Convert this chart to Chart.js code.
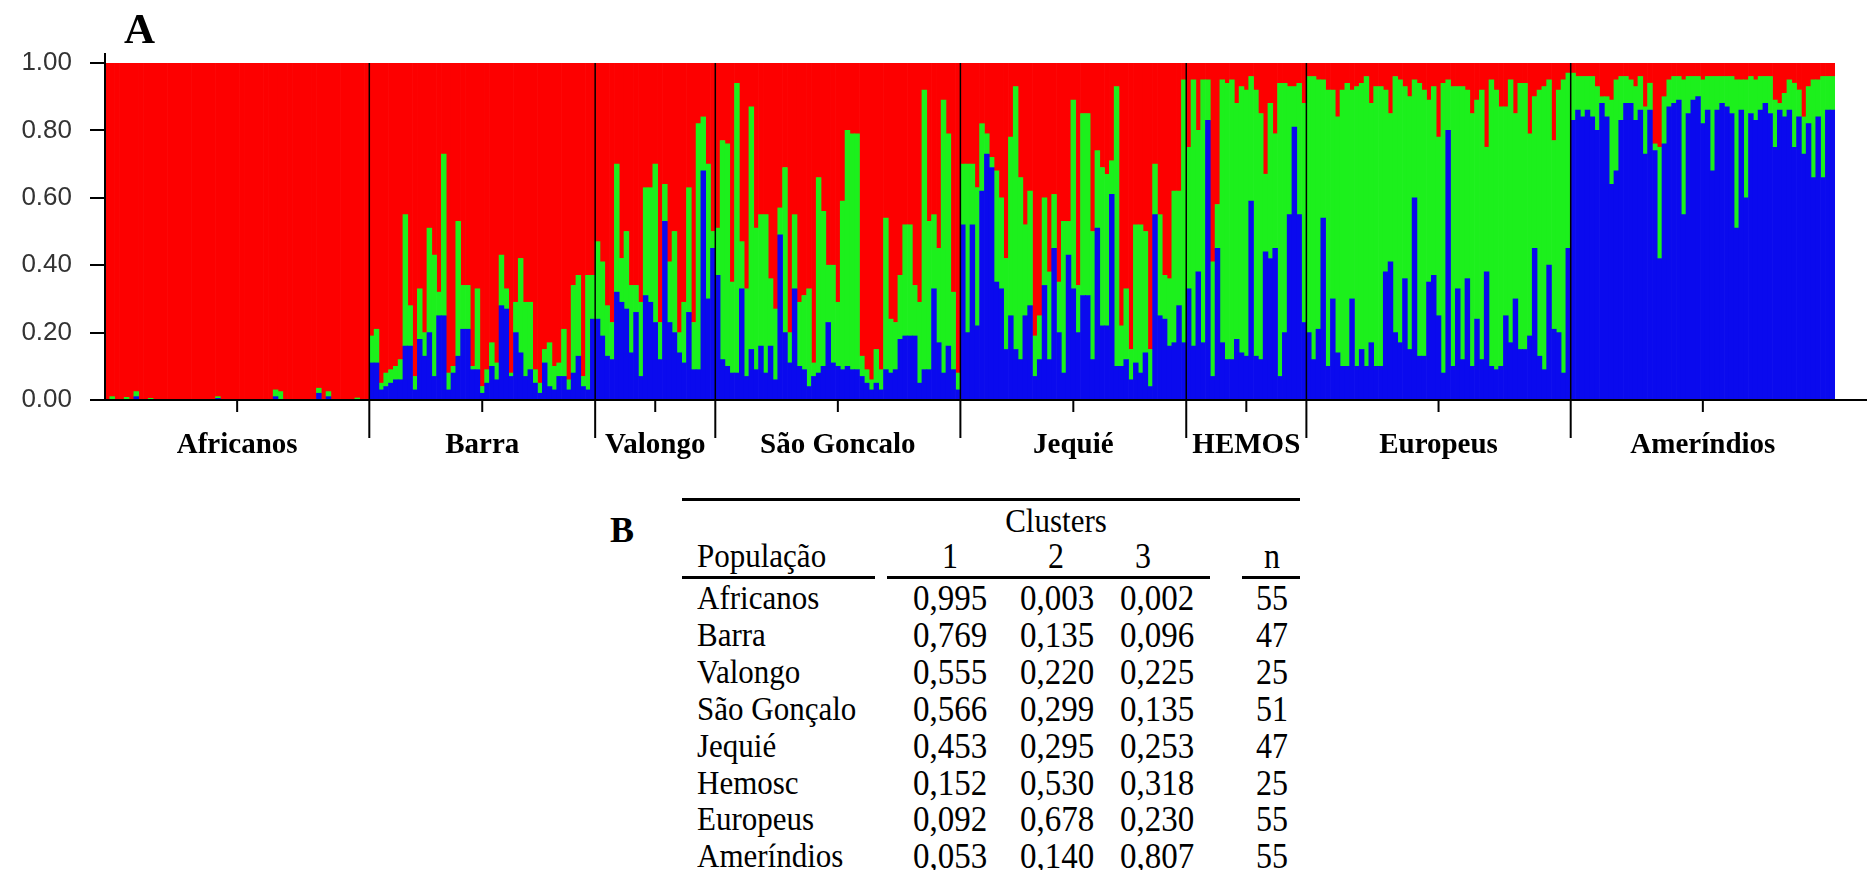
<!DOCTYPE html>
<html>
<head>
<meta charset="utf-8">
<script src="https://cdn.jsdelivr.net/npm/chart.js@4.4.1/dist/chart.umd.min.js"></script>
<style>
  body { margin: 0; background: #fff; width: 1867px; height: 870px; position: relative; overflow: hidden; }
  #chart { position: absolute; left: 0; top: 0; }
  .t { position: absolute; font-family: "Liberation Serif", "Times New Roman", serif; color: #000; white-space: nowrap; transform: scaleY(1.1); }
  .rule { position: absolute; background: #000; height: 3px; }
</style>
</head>
<body>
<canvas id="chart" width="1867" height="480"></canvas>
<div class="t" style="left:124px; top:7px; font-size:43px; line-height:43px; font-weight:bold; transform:none;">A</div>
<div id="table"></div>
<script>
// Q values per individual: blue = cluster 3, top = cluster 3 + cluster 2 (red fills the rest)
const populations = ['Africanos', 'Barra', 'Valongo', 'São Goncalo', 'Jequié', 'HEMOS', 'Europeus', 'Ameríndios'];

const africanosBlue = [0,0,0,0,0,0,0.01,0,0,0, 0,0,0,0,0,0,0,0,0,0, 0,0,0,0.005,0,0,0,0,0,0, 0,0,0,0,0,0.01,0,0,0,0, 0,0,0,0,0.02,0,0.01,0,0,0, 0,0,0,0,0];
const africanosTop = [0,0.01,0,0,0.008,0,0.025,0,0,0.005, 0,0,0,0,0,0,0,0,0,0, 0,0,0,0.01,0,0,0,0,0,0, 0,0,0,0,0,0.03,0.025,0,0,0, 0,0,0,0,0.035,0,0.025,0,0,0, 0,0,0.006,0,0];

const barraBlue = [0.11,0.11,0.03,0.04,0.05,0.06,0.06,0.16,0.16,0.03, 0.18,0.13,0.20,0.07,0.25,0.25,0.03,0.08,0.13,0.21, 0.21,0.09,0.09,0.02,0.05,0.10,0.06,0.28,0.27,0.07, 0.20,0.14,0.07,0.09,0.05,0.02,0.11,0.04,0.03,0.07, 0.07,0.03,0.08,0.13,0.04,0.03,0.24];
const barraTop = [0.19,0.21,0.05,0.08,0.09,0.10,0.12,0.55,0.28,0.07, 0.33,0.20,0.51,0.43,0.32,0.73,0.08,0.10,0.53,0.34, 0.34,0.10,0.33,0.04,0.09,0.17,0.11,0.43,0.33,0.08, 0.29,0.42,0.29,0.29,0.09,0.05,0.15,0.17,0.10,0.11, 0.21,0.06,0.34,0.37,0.07,0.37,0.37];

const valongoBlue = [0.24,0.19,0.13,0.12,0.32,0.29,0.27,0.14,0.26,0.07, 0.31,0.29,0.23,0.12,0.53,0.23,0.20,0.14,0.11,0.26, 0.09,0.09,0.68,0.30,0.45];
const valongoTop = [0.47,0.41,0.28,0.23,0.70,0.42,0.50,0.34,0.34,0.29, 0.63,0.63,0.70,0.23,0.64,0.41,0.50,0.20,0.29,0.63, 0.23,0.82,0.84,0.70,0.50];

const saoGoncaloBlue = [0.37,0.12,0.10,0.08,0.08,0.33,0.07,0.15,0.09,0.16, 0.08,0.16,0.06,0.49,0.20,0.11,0.33,0.10,0.09,0.04, 0.07,0.08,0.10,0.23,0.11,0.10,0.09,0.10,0.09,0.09, 0.07,0.05,0.03,0.05,0.03,0.09,0.08,0.09,0.18,0.19, 0.19,0.19,0.05,0.09,0.09,0.33,0.17,0.08,0.16,0.09, 0.03];
const saoGoncaloTop = [0.51,0.77,0.76,0.35,0.94,0.47,0.33,0.87,0.51,0.55, 0.55,0.36,0.27,0.57,0.69,0.20,0.55,0.29,0.31,0.33, 0.11,0.66,0.56,0.40,0.40,0.29,0.59,0.80,0.79,0.79, 0.13,0.09,0.06,0.15,0.09,0.54,0.24,0.23,0.37,0.52, 0.52,0.34,0.29,0.92,0.53,0.55,0.45,0.89,0.79,0.32, 0.08];

const jequieBlue = [0.52,0.20,0.52,0.22,0.62,0.73,0.69,0.35,0.33,0.15, 0.25,0.15,0.12,0.25,0.28,0.07,0.12,0.34,0.12,0.45, 0.20,0.08,0.43,0.33,0.20,0.31,0.31,0.12,0.51,0.22, 0.22,0.61,0.10,0.10,0.12,0.06,0.11,0.08,0.14,0.04, 0.55,0.25,0.24,0.16,0.17,0.28,0.17];
const jequieTop = [0.70,0.70,0.70,0.63,0.82,0.79,0.72,0.68,0.60,0.42, 0.78,0.93,0.66,0.52,0.62,0.19,0.25,0.60,0.38,0.61, 0.35,0.53,0.53,0.89,0.34,0.85,0.85,0.50,0.74,0.69, 0.67,0.71,0.93,0.22,0.33,0.15,0.52,0.52,0.50,0.15, 0.70,0.55,0.37,0.36,0.62,0.62,0.95];

const hemosBlue = [0.33,0.16,0.38,0.17,0.83,0.07,0.45,0.17,0.12,0.12, 0.18,0.14,0.13,0.59,0.13,0.12,0.44,0.42,0.45,0.07, 0.20,0.55,0.81,0.55,0.23];
const hemosTop = [0.75,0.95,0.80,0.95,0.95,0.41,0.58,0.95,0.94,0.95, 0.88,0.93,0.92,0.96,0.92,0.85,0.67,0.88,0.79,0.94, 0.94,0.93,0.93,0.94,0.88];

const europeusBlue = [0.20,0.12,0.21,0.54,0.10,0.30,0.14,0.10,0.10,0.30, 0.10,0.15,0.10,0.17,0.10,0.10,0.38,0.41,0.20,0.17, 0.36,0.15,0.60,0.13,0.13,0.35,0.37,0.25,0.08,0.80, 0.10,0.33,0.12,0.36,0.10,0.24,0.12,0.38,0.10,0.09, 0.10,0.25,0.17,0.30,0.15,0.15,0.19,0.45,0.13,0.09, 0.40,0.21,0.20,0.08,0.45];
const europeusTop = [0.96,0.96,0.95,0.95,0.92,0.92,0.84,0.92,0.94,0.92, 0.93,0.94,0.96,0.88,0.93,0.93,0.92,0.85,0.96,0.95, 0.93,0.90,0.95,0.94,0.92,0.89,0.93,0.78,0.94,0.95, 0.93,0.93,0.93,0.92,0.85,0.89,0.92,0.75,0.95,0.92, 0.87,0.87,0.95,0.85,0.94,0.94,0.79,0.90,0.92,0.93, 0.95,0.77,0.92,0.95,0.97];

const amerindiosBlue = [0.83,0.86,0.84,0.86,0.84,0.80,0.88,0.84,0.64,0.68, 0.83,0.88,0.88,0.83,0.86,0.73,0.86,0.74,0.42,0.76, 0.87,0.88,0.89,0.55,0.85,0.89,0.90,0.82,0.86,0.68, 0.86,0.88,0.87,0.85,0.51,0.86,0.60,0.85,0.83,0.86, 0.88,0.85,0.75,0.86,0.84,0.86,0.75,0.84,0.73,0.82, 0.66,0.84,0.66,0.86,0.86];
const amerindiosTop = [0.97,0.96,0.96,0.96,0.96,0.93,0.90,0.90,0.89,0.95, 0.96,0.96,0.95,0.93,0.96,0.87,0.94,0.76,0.75,0.90, 0.95,0.96,0.96,0.95,0.96,0.96,0.96,0.95,0.96,0.96, 0.96,0.96,0.96,0.96,0.95,0.95,0.95,0.96,0.95,0.96, 0.96,0.96,0.89,0.88,0.91,0.95,0.94,0.92,0.84,0.93, 0.95,0.95,0.96,0.96,0.96];

const yTicks = [0, 0.2, 0.4, 0.6, 0.8, 1.0];

// table B
const tablePops = ['Africanos', 'Barra', 'Valongo', 'São Gonçalo', 'Jequié', 'Hemosc', 'Europeus', 'Ameríndios'];
const cluster1 = [0.995, 0.769, 0.555, 0.566, 0.453, 0.152, 0.092, 0.053];
const cluster2 = [0.003, 0.135, 0.220, 0.299, 0.295, 0.530, 0.678, 0.140];
const cluster3 = [0.002, 0.096, 0.225, 0.135, 0.253, 0.318, 0.230, 0.807];
const nValues = [55, 47, 25, 51, 47, 25, 55, 55];

const groups = [
  [africanosBlue, africanosTop], [barraBlue, barraTop], [valongoBlue, valongoTop],
  [saoGoncaloBlue, saoGoncaloTop], [jequieBlue, jequieTop], [hemosBlue, hemosTop],
  [europeusBlue, europeusTop], [amerindiosBlue, amerindiosTop]
];

const labels = [], blue = [], green = [], red = [];
const centers = {};
groups.forEach(([b, t], gi) => {
  centers[labels.length + (b.length - 1) / 2] = populations[gi];
  b.forEach((v, i) => {
    labels.push(populations[gi]);
    blue.push(v);
    green.push(+(t[i] - v).toFixed(3));
    red.push(+(1 - t[i]).toFixed(3));
  });
});

const decor = {
  id: 'decor',
  afterDraw(chart) {
    const { ctx, chartArea, scales: { x, y } } = chart;
    const y0 = y.getPixelForValue(0);
    const line = (x1, y1, x2, y2) => { ctx.beginPath(); ctx.moveTo(x1, y1); ctx.lineTo(x2, y2); ctx.stroke(); };
    ctx.save();
    ctx.strokeStyle = '#000';
    ctx.lineWidth = 2;
    line(chartArea.left, y.getPixelForValue(1) - 10, chartArea.left, y0);
    line(chartArea.left - 15, y0, chart.width, y0);
    let start = 0;
    groups.forEach(([b], gi) => {
      const cx = x.getPixelForValue(start + (b.length - 1) / 2);
      line(cx, y0, cx, y0 + 12);
      if (gi > 0) {
        const bx = (x.getPixelForValue(start - 1) + x.getPixelForValue(start)) / 2;
        ctx.lineWidth = 1.5;
        line(bx, chartArea.top, bx, y0);
        ctx.lineWidth = 2;
        line(bx, y0, bx, y0 + 38);
      }
      start += b.length;
    });
    ctx.restore();
  }
};

new Chart(document.getElementById('chart'), {
  type: 'bar',
  data: {
    labels: labels,
    datasets: [
      { label: 'cluster 3', data: blue, backgroundColor: '#0a0aee' },
      { label: 'cluster 2', data: green, backgroundColor: '#1cf01c' },
      { label: 'cluster 1', data: red, backgroundColor: '#fd0000' }
    ]
  },
  options: {
    responsive: false,
    animation: false,
    categoryPercentage: 1,
    barPercentage: 1,
    borderWidth: 0,
    layout: { padding: { top: 63, right: 32, left: 0, bottom: 0 } },
    plugins: { legend: { display: false }, tooltip: { enabled: false } },
    scales: {
      x: {
        stacked: true,
        grid: { display: false },
        border: { display: false },
        ticks: {
          autoSkip: false, maxRotation: 0, minRotation: 0, padding: 20,
          color: '#000',
          font: { family: 'Liberation Serif', size: 29, weight: 'bold' },
          callback: (v, i) => centers[i] || ''
        },
        afterFit: s => { s.height = 80; }
      },
      y: {
        stacked: true,
        min: 0, max: 1,
        afterBuildTicks: s => { s.ticks = yTicks.map(v => ({ value: v })); },
        ticks: {
          padding: 18, color: '#333',
          font: { family: 'Liberation Sans', size: 26 },
          callback: v => v.toFixed(2)
        },
        grid: { drawOnChartArea: false, tickLength: 15, color: '#000', lineWidth: 2 },
        border: { color: '#000', width: 2 },
        afterFit: s => { s.width = 105; }
      }
    }
  },
  plugins: [decor]
});

// table B as text
const tbl = document.getElementById('table');
const put = (txt, x, cy, align, size, extra) => {
  const d = document.createElement('div');
  d.className = 't';
  d.textContent = txt;
  d.style.fontSize = size + 'px';
  d.style.lineHeight = '40px';
  d.style.top = (cy - 20) + 'px';
  if (align === 'center') { d.style.left = (x - 100) + 'px'; d.style.width = '200px'; d.style.textAlign = 'center'; }
  else d.style.left = x + 'px';
  if (extra) Object.assign(d.style, extra);
  tbl.appendChild(d);
};
const rule = (x1, x2, yy) => {
  const r = document.createElement('div');
  r.className = 'rule';
  r.style.left = x1 + 'px'; r.style.width = (x2 - x1) + 'px'; r.style.top = (yy - 1) + 'px';
  tbl.appendChild(r);
};
const fmt = v => v.toFixed(3).replace('.', ',');
put('B', 610, 530, 'left', 36, { fontWeight: 'bold', transform: 'none' });
rule(682, 1300, 499);
put('Clusters', 1056, 521, 'center', 31);
put('População', 697, 556, 'left', 31);
put('1', 950, 556, 'center', 32);
put('2', 1056, 556, 'center', 32);
put('3', 1143, 556, 'center', 32);
put('n', 1272, 556, 'center', 32);
rule(682, 875, 577); rule(887, 1210, 577); rule(1242, 1300, 577);
tablePops.forEach((p, i) => {
  const cy = 598 + i * 36.9;
  put(p, 697, cy, 'left', 31);
  put(fmt(cluster1[i]), 950, cy, 'center', 33);
  put(fmt(cluster2[i]), 1057, cy, 'center', 33);
  put(fmt(cluster3[i]), 1157, cy, 'center', 33);
  put(String(nValues[i]), 1272, cy, 'center', 32);
});
</script>
</body>
</html>
